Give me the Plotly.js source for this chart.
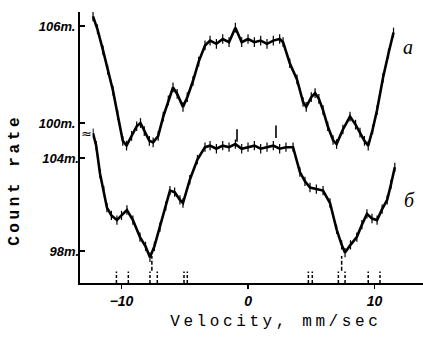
<!DOCTYPE html>
<html>
<head>
<meta charset="utf-8">
<script src="https://cdn.plot.ly/plotly-3.0.1.min.js"></script>
<style>
html,body{margin:0;padding:0;background:#fff;}
#chart{width:423px;height:337px;}
</style>
</head>
<body>
<div id="chart"></div>
<script>
// Curve a (upper spectrum), velocity in mm/sec, count rate in thousands
const velA = [-12.25,-11.9,-11.46,-11.1,-10.67,-10.3,-9.9,-9.6,-9.2,-8.8,-8.5,-8.2,-7.8,-7.5,-7.1,-6.7,-6.3,-5.93,-5.6,-5.14,-4.8,-4.35,-3.9,-3.4,
  -3.0,-2.5,-2.0,-1.5,-1.0,-0.5,0.0,0.5,1.0,1.5,2.0,2.5,2.77,
  3.3,3.87,4.35,4.6,5.0,5.3,5.6,5.93,6.3,6.72,7.0,7.5,8.06,8.5,8.85,9.2,9.5,9.85,10.2,10.67,11.1,11.5];
const countA = [106.6,105.8,104.5,103.3,102.0,100.5,98.9,98.6,99.2,99.8,100.0,99.5,98.9,98.8,99.2,100.4,101.4,102.2,101.8,101.0,101.6,102.6,103.8,104.8,
  105.1,104.9,105.2,105.0,105.9,105.0,105.2,105.0,105.1,104.9,105.1,105.2,105.0,
  103.7,102.7,101.3,101.0,101.6,101.85,101.5,100.8,99.8,98.95,98.7,99.6,100.4,99.9,99.4,98.9,98.6,99.6,100.8,102.8,104.3,105.6];

// Curve б (lower spectrum)
const velB = [-12.25,-12.0,-11.7,-11.4,-11.15,-10.8,-10.36,-10.0,-9.57,-9.1,-8.54,-8.1,-7.75,-7.4,-6.96,-6.5,-6.17,-5.8,-5.38,-5.14,-4.6,-4.0,-3.4,
  -3.0,-2.5,-2.0,-1.5,-1.0,-0.5,0.0,0.5,1.0,1.5,2.0,2.5,3.0,3.56,
  4.1,4.5,4.9,5.4,5.93,6.48,7.0,7.4,7.67,8.1,8.6,9.0,9.4,9.8,10.2,10.6,11.0,11.3,11.6];
const countB = [105.6,104.8,103.0,101.9,100.8,100.3,100.0,100.3,100.65,100.0,98.9,98.3,97.6,98.3,99.55,100.9,101.9,101.8,101.3,101.1,102.6,103.9,104.7,
  104.8,104.6,104.8,104.7,104.9,104.6,104.7,104.8,104.6,104.7,104.8,104.6,104.7,104.7,
  103.1,102.5,102.1,102.0,101.9,101.1,99.4,98.4,97.9,98.4,98.9,99.7,100.4,100.1,100.0,100.7,101.3,102.3,103.4];

// isolated marks above curve б
const markVel = [-0.87, 2.21];
const markCount = [105.45, 105.7];

// line-position sticks on the velocity axis
const stickVel = [-10.4,-9.46,-7.75,-7.17,-5.06,-4.8,4.77,5.08,7.14,7.67,9.5,10.43];
const longStickVel = [-7.6, 7.4];

// tick labels
const xTickVals = [-10, 0, 10];
const xTickText = ['\u221210', '0', '10'];
const yATickVals = [100, 106];
const yATickText = ['100т.', '106т.'];
const yBTickVals = [98, 104];
const yBTickText = ['98т.', '104т.'];

const tickFont = {family: '"Liberation Sans", Arial, sans-serif', size: 13, color: '#000', style: 'italic', weight: 'bold'};
const monoFont = {family: '"Liberation Mono", "Courier New", monospace', size: 16, color: '#000'};

const noise = {type: 'constant', value: 0.3, width: 0, thickness: 1.2, color: '#000'};

const traces = [
  {x: velA, y: countA, type: 'scatter', mode: 'lines', yaxis: 'y',
   line: {color: '#000', width: 2.6}, error_y: noise, hoverinfo: 'skip'},
  {x: velB, y: countB, type: 'scatter', mode: 'lines', yaxis: 'y2',
   line: {color: '#000', width: 2.6}, error_y: noise, hoverinfo: 'skip'},
  {x: markVel, y: markCount, type: 'scatter', mode: 'markers', yaxis: 'y2',
   marker: {symbol: 'line-ns-open', size: 9, color: '#000', line: {color: '#000', width: 1.6}}, hoverinfo: 'skip'}
];

const shapes = [];
stickVel.forEach(v => shapes.push({type: 'line', xref: 'x', yref: 'paper', x0: v, x1: v, y0: 0, y1: 0.042,
  line: {color: '#000', width: 1.5, dash: '3px,2px'}}));
longStickVel.forEach(v => shapes.push({type: 'line', xref: 'x', yref: 'paper', x0: v, x1: v, y0: 0.045, y1: 0.1,
  line: {color: '#000', width: 1.5, dash: '4px,2px'}}));

const layout = {
  width: 423, height: 337,
  margin: {l: 80, r: 0, t: 12, b: 54, pad: 0},
  paper_bgcolor: '#fff', plot_bgcolor: '#fff',
  showlegend: false,
  xaxis: {
    range: [-13.28, 13.83], showgrid: false, zeroline: false,
    showline: true, linecolor: '#000', linewidth: 2,
    ticks: 'outside', ticklen: 4, tickwidth: 1.5, tickcolor: '#000',
    tickvals: xTickVals, ticktext: xTickText, tickfont: Object.assign({}, tickFont, {size: 14})
  },
  yaxis: {
    range: [90.1, 106.87], showgrid: false, zeroline: false,
    showline: true, linecolor: '#000', linewidth: 2,
    ticks: 'inside', ticklen: 5, tickwidth: 1.5, tickcolor: '#000',
    tickvals: yATickVals, ticktext: yATickText, tickfont: tickFont
  },
  yaxis2: {
    range: [95.94, 113.42], overlaying: 'y', side: 'left',
    showgrid: false, zeroline: false, showline: false,
    ticks: 'inside', ticklen: 5, tickwidth: 1.5, tickcolor: '#000',
    tickvals: yBTickVals, ticktext: yBTickText, tickfont: tickFont
  },
  shapes: shapes,
  annotations: [
    {text: 'Velocity, mm/sec', xref: 'paper', yref: 'paper', x: 0.571, y: -0.144, xanchor: 'center', yanchor: 'middle',
     showarrow: false, font: monoFont},
    {text: '<b>Count rate</b>', xref: 'paper', yref: 'paper', x: -0.19, y: 0.38, xanchor: 'center', yanchor: 'middle',
     textangle: -90, showarrow: false, font: monoFont},
    {text: 'a', xref: 'x', yref: 'y', x: 12.65, y: 104.7, showarrow: false,
     font: {family: '"Liberation Serif", serif', size: 20, style: 'italic', color: '#000'}},
    {text: 'б', xref: 'x', yref: 'y2', x: 12.8, y: 101.3, showarrow: false,
     font: {family: '"Liberation Serif", serif', size: 20, style: 'italic', color: '#000'}},
    {text: '≈', xref: 'paper', yref: 'paper', x: 0, y: 0.5535, showarrow: false, bgcolor: '#fff',
     font: {family: '"DejaVu Sans", sans-serif', size: 13, color: '#000'}, borderpad: 0}
  ]
};

Plotly.newPlot('chart', traces, layout, {displayModeBar: false, staticPlot: true}).then(() => {
  document.querySelectorAll('.annotation-text').forEach(t => {
    if (t.textContent.indexOf('Velocity') === 0 || t.textContent.indexOf('Count') === 0) {
      t.style.letterSpacing = '3.6px';
    }
  });
});
</script>
</body>
</html>
